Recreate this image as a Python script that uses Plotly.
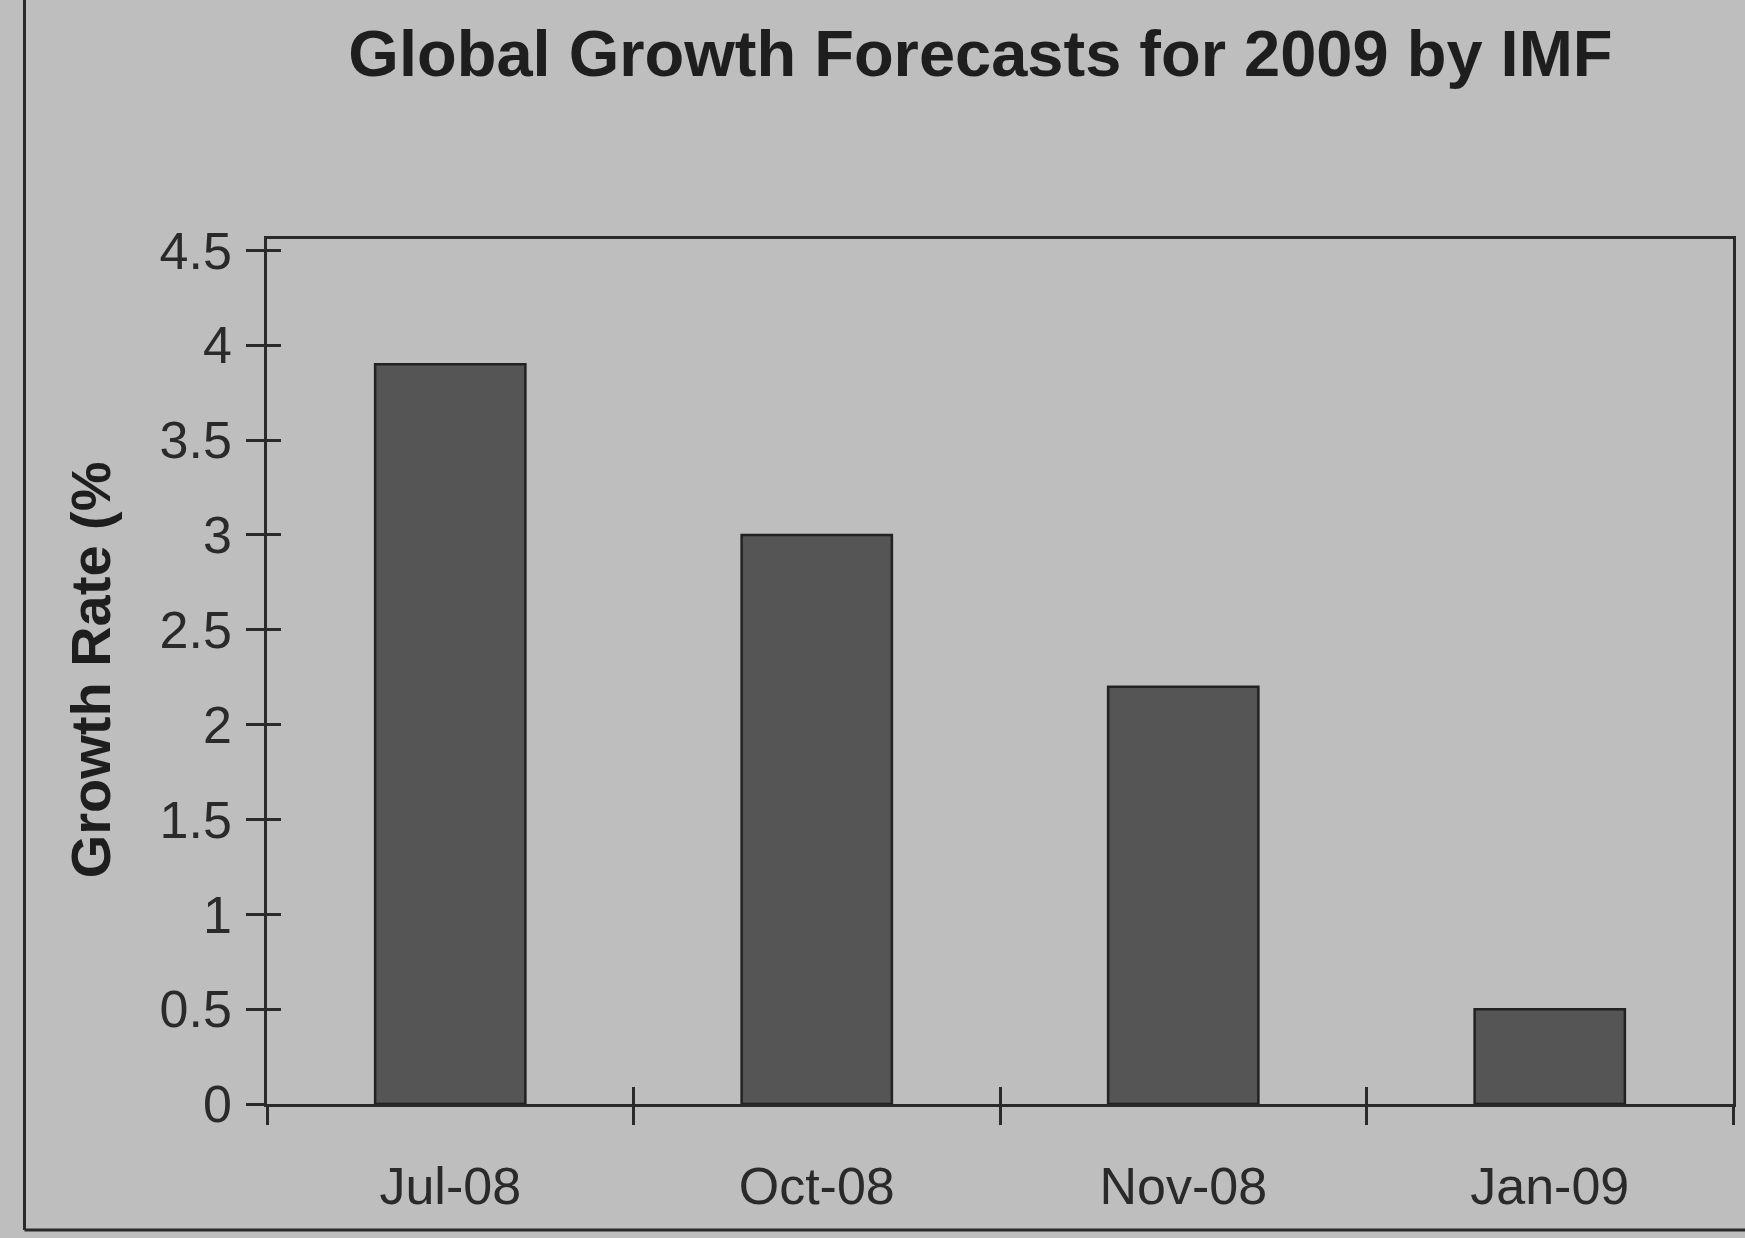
import plotly.graph_objects as go

categories = ["Jul-08", "Oct-08", "Nov-08", "Jan-09"]
growth = [3.9, 3.0, 2.2, 0.5]
y_ticks = [0, 0.5, 1, 1.5, 2, 2.5, 3, 3.5, 4, 4.5]
y_tick_text = ["0", "0.5", "1", "1.5", "2", "2.5", "3", "3.5", "4", "4.5"]

W, H = 1745, 1238
L, R, T, B = 267, 9, 239, 134
pw = W - L - R
ph = H - T - B

bg = "#bebebe"
ink = "#2a2a2a"
font = "Liberation Sans, Arial, sans-serif"

fig = go.Figure()
fig.add_trace(go.Bar(
    x=categories, y=growth, width=0.41,
    marker=dict(color="#555555", line=dict(color="#222222", width=2.5)),
    showlegend=False,
))
# invisible twin axes for the inward half of the cross ticks
fig.add_trace(go.Scatter(x=categories, y=growth, xaxis="x2", yaxis="y2", mode="none",
                         showlegend=False, hoverinfo="skip"))

fig.update_layout(
    width=W, height=H,
    margin=dict(l=L, r=R, t=T, b=B),
    paper_bgcolor=bg, plot_bgcolor=bg,
    font=dict(family=font, color="#2a2a2a"),
    title=dict(text="<b>Global Growth Forecasts for 2009 by IMF</b>",
               x=(312 + 1450) / 2 * 1745 / 1568 / W, xanchor="center", xref="container",
               y=1 - 53 / H, yanchor="middle", yref="container",
               font=dict(size=65, color="#1e1e1e", family=font)),
    xaxis=dict(type="category", tickson="boundaries", ticks="outside",
               ticklen=18, tickwidth=2.5, tickcolor=ink,
               showline=True, linecolor=ink, linewidth=2.5, mirror=True,
               showgrid=False, tickfont=dict(size=52, color="#2a2a2a"),
               ticklabelstandoff=35, range=[-0.5, 3.5]),
    xaxis2=dict(type="category", tickson="boundaries", ticks="inside",
                ticklen=17, tickwidth=2.5, tickcolor=ink, overlaying="x",
                side="bottom", anchor="y", showticklabels=False, showgrid=False,
                showline=False, range=[-0.5, 3.5]),
    yaxis=dict(range=[0, 4.56], tickvals=y_ticks, ticktext=y_tick_text,
               ticks="outside", ticklen=18, tickwidth=2.5, tickcolor=ink,
               showline=True, linecolor=ink, linewidth=2.5, mirror=True,
               showgrid=False, zeroline=False,
               tickfont=dict(size=52, color="#2a2a2a"),
               ticklabelstandoff=4),
    yaxis2=dict(range=[0, 4.56], tickvals=y_ticks, overlaying="y", side="left",
                anchor="x", ticks="inside", ticklen=14, tickwidth=2.5, tickcolor=ink,
                showticklabels=False, showgrid=False, zeroline=False,
                showline=False),
    annotations=[dict(text="<b>Growth Rate (%</b>", textangle=-90,
                      x=(90 - L) / pw, xref="paper", xanchor="center",
                      y=(H - B - 670) / ph, yref="paper", yanchor="middle",
                      showarrow=False, font=dict(size=56, color="#1e1e1e", family=font))],
    shapes=[
        dict(type="line", xref="paper", yref="paper",
             x0=(24 - L) / pw, x1=(24 - L) / pw,
             y0=(H - B - 1230) / ph, y1=(H - B + 10) / ph,
             line=dict(color=ink, width=3)),
        dict(type="line", xref="paper", yref="paper",
             x0=(24 - L) / pw, x1=(W + 10 - L) / pw,
             y0=(H - B - 1230) / ph, y1=(H - B - 1230) / ph,
             line=dict(color=ink, width=3)),
    ],
)

fig.write_html("out.html")
